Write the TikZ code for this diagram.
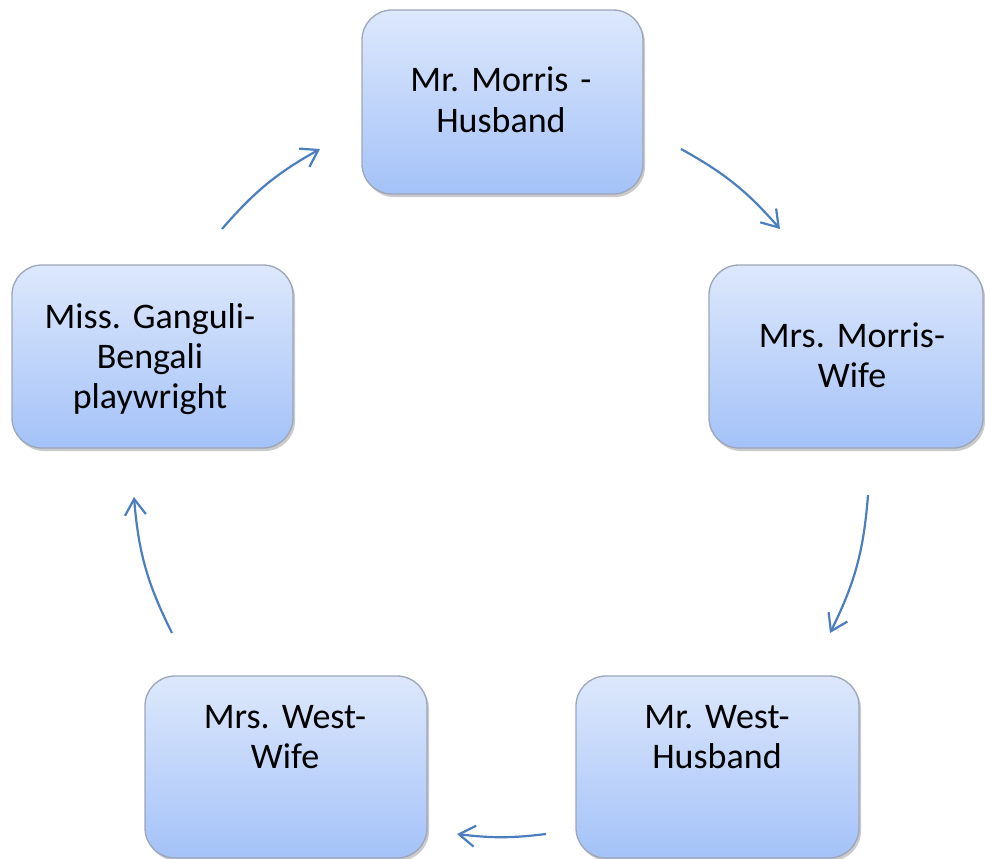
\documentclass[tikz,border=0pt]{standalone}
\usepackage{fontspec}
\setmainfont{Carlito}
\usetikzlibrary{arrows.meta,shadows}

\definecolor{boxtop}{HTML}{DDE8FC}
\definecolor{boxbottom}{HTML}{A4C2F8}
\definecolor{boxline}{HTML}{9CA6B8}
\definecolor{arrowblue}{HTML}{4A7EBF}

\begin{document}
\frenchspacing
\begin{tikzpicture}[x=1pt,y=-1pt,
  card/.style={draw=boxline, line width=1.3pt, rounded corners=30pt,
    top color=boxtop, bottom color=boxbottom,
    drop shadow={shadow xshift=2pt, shadow yshift=-3pt, opacity=0.35, fill=black!60}},
  label/.style={anchor=base, text width=270pt, align=center,
    font=\fontsize{36}{40}\selectfont},
  flow/.style={draw=arrowblue, line width=2.2pt,
    -{Straight Barb[length=16pt 0 0, width=21pt 0 0]}}]

\useasboundingbox (0,0) rectangle (985,859);

% the five cards, clockwise from the top
\path[card] (362,10) rectangle (643,194) node[pos=0.5] (morris) {};
\path[card] (709,265) rectangle (983,448) node[pos=0.5] (mrsmorris) {};
\path[card] (576,676) rectangle (859,858) node[pos=0.5] (west) {};
\path[card] (145,676) rectangle (427,858) node[pos=0.5] (mrswest) {};
\path[card] (12,265) rectangle (293,448) node[pos=0.5] (ganguli) {};

% card texts
\node[label] (tmorris) at (501,92) {Mr. Morris -\\Husband};
\node[label] (tmrsmorris) at (852,347) {Mrs. Morris-\\Wife};
\node[label] (twest) at (717,728) {Mr. West-\\Husband};
\node[label] (tmrswest) at (285,728) {Mrs. West-\\Wife};
\node[label] (tganguli) at (150,328) {Miss. Ganguli-\\Bengali\\playwright};

% arrow end points on the ring
\coordinate (a1s) at (681,149); \coordinate (a1e) at (780,229);
\coordinate (a2s) at (868,495); \coordinate (a2e) at (830,633);
\coordinate (a3s) at (546,834); \coordinate (a3e) at (457,834);
\coordinate (a4s) at (172,633); \coordinate (a4e) at (134,497);
\coordinate (a5s) at (222,229); \coordinate (a5e) at (320,149);

\draw[flow] (a1s) to[bend left=10] (a1e);
\draw[flow] (a2s) to[bend left=11] (a2e);
\draw[flow] (a3s) to[bend left=7] (a3e);
\draw[flow] (a4s) to[bend left=11] (a4e);
\draw[flow] (a5s) to[bend left=10] (a5e);
\end{tikzpicture}
\end{document}
